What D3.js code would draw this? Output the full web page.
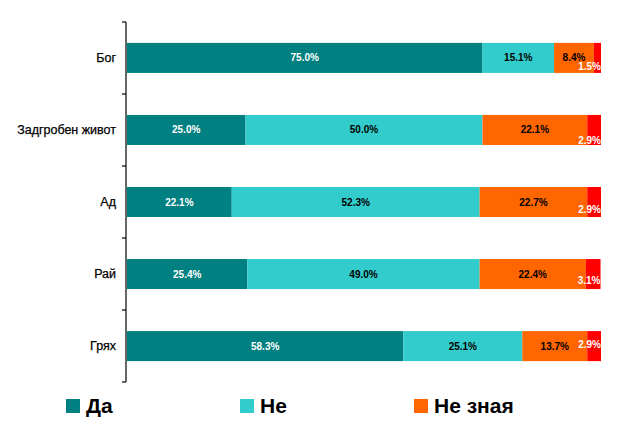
<!DOCTYPE html>
<html>
<head>
<meta charset="utf-8">
<script src="https://cdn.jsdelivr.net/npm/d3@7"></script>
<style>
  body { margin: 0; background: #fff; }
  svg { display: block; font-family: "Liberation Sans", Arial, sans-serif; }
</style>
</head>
<body>
<div class="canvas"></div>
<script>
const categories = ['Бог', 'Задгробен живот', 'Ад', 'Рай', 'Грях'];
const seriesNames = ['Да', 'Не', 'Не зная', 'Друго'];
const yes = [75.0, 25.0, 22.1, 25.4, 58.3];
const no = [15.1, 50.0, 52.3, 49.0, 25.1];
const dontKnow = [8.4, 22.1, 22.7, 22.4, 13.7];
const other = [1.5, 2.9, 2.9, 3.1, 2.9];
const legendNames = ['Да', 'Не', 'Не зная'];

const colors = ['#008080', '#33cccc', '#ff6600', '#ff0000'];
const labelColors = ['#fff', '#000', '#000', '#fff'];
// the small red labels sit a bit off the bar centre
const smallLabelDy = [9, 11, 7, 6, -2];

const dims = { width: 627, height: 431 };
const margin = { left: 127, right: 26, top: 22, bottom: 49 };

const svg = d3.select('.canvas')
  .append('svg')
  .attr('width', dims.width)
  .attr('height', dims.height);

const x = d3.scaleLinear()
  .domain([0, 100])
  .range([margin.left, dims.width - margin.right]);

const y = d3.scaleBand()
  .domain(categories)
  .range([margin.top, dims.height - margin.bottom])
  .paddingInner(0.583)
  .paddingOuter(0.29);

const rows = categories.map((c, i) => ({
  name: c,
  values: [yes[i], no[i], dontKnow[i], other[i]]
}));

// stack the values per row
const segs = [];
rows.forEach((r, ri) => {
  let acc = 0;
  r.values.forEach((v, si) => {
    segs.push({ row: ri, cat: r.name, s: si, x0: acc, x1: acc + v, v: v });
    acc += v;
  });
});

svg.append('g')
  .selectAll('rect')
  .data(segs)
  .enter()
  .append('rect')
  .attr('x', d => x(d.x0))
  .attr('y', d => y(d.cat))
  .attr('width', d => x(d.x1) - x(d.x0))
  .attr('height', y.bandwidth())
  .attr('fill', d => colors[d.s]);

svg.append('g')
  .selectAll('text')
  .data(segs)
  .enter()
  .append('text')
  .attr('x', d => d.s === 3 ? x(d.x1) : (x(d.x0) + x(d.x1)) / 2)
  .attr('y', d => y(d.cat) + y.bandwidth() / 2 + (d.s === 3 ? smallLabelDy[d.row] : 0))
  .attr('dy', '0.35em')
  .attr('text-anchor', d => d.s === 3 ? 'end' : 'middle')
  .attr('font-size', 10)
  .attr('font-weight', 'bold')
  .attr('fill', d => labelColors[d.s])
  .text(d => d.v.toFixed(1) + '%');

// category axis with ticks between bands
const axisX = margin.left - 1;
const axisG = svg.append('g');
axisG.append('line')
  .attr('x1', axisX).attr('x2', axisX)
  .attr('y1', margin.top).attr('y2', dims.height - margin.bottom)
  .attr('stroke', '#000').attr('stroke-width', 1.2);

const bounds = d3.range(categories.length + 1)
  .map(i => margin.top + i * (dims.height - margin.bottom - margin.top) / categories.length);
axisG.selectAll('.tick')
  .data(bounds)
  .enter()
  .append('line')
  .attr('x1', axisX - 4).attr('x2', axisX)
  .attr('y1', d => d).attr('y2', d => d)
  .attr('stroke', '#000').attr('stroke-width', 1.2);

axisG.selectAll('.cat')
  .data(categories)
  .enter()
  .append('text')
  .attr('x', 116)
  .attr('y', d => y(d) + y.bandwidth() / 2)
  .attr('dy', '0.35em')
  .attr('text-anchor', 'end')
  .attr('font-size', 12.5)
  .attr('fill', '#000')
  .attr('stroke', '#000')
  .attr('stroke-width', 0.25)
  .text(d => d);

// legend
const legend = svg.append('g')
  .selectAll('g')
  .data(legendNames)
  .enter()
  .append('g')
  .attr('transform', (d, i) => `translate(${66 + i * 174}, 399)`);

legend.append('rect')
  .attr('width', 14).attr('height', 14)
  .attr('fill', (d, i) => colors[i]);

legend.append('text')
  .attr('x', 20)
  .attr('y', 7)
  .attr('dy', '0.35em')
  .attr('font-size', 21)
  .attr('font-weight', 'bold')
  .attr('fill', '#000')
  .text(d => d);
</script>
</body>
</html>
